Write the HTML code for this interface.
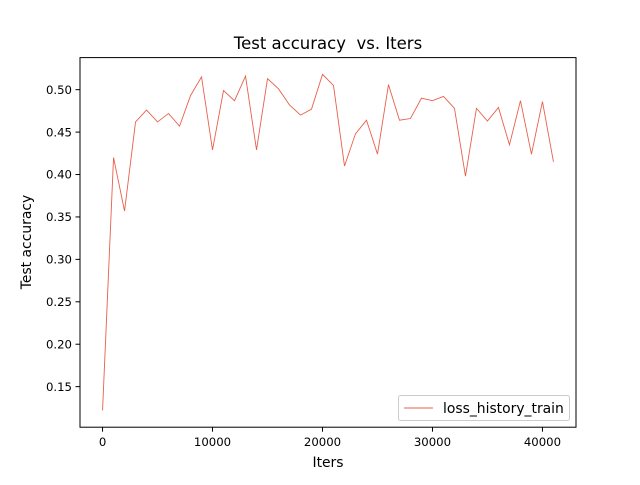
<!DOCTYPE html>
<html><head><meta charset="utf-8"><style>
body{margin:0;background:#fff;}
svg text{font-family:"DejaVu Sans","Liberation Sans",sans-serif;fill:#000;}
</style></head><body>
<svg id="chart" width="640" height="480" viewBox="0 0 640 480">
<rect width="640" height="480" fill="#fff"/>
<text x="328" y="49" font-size="16.5" text-anchor="middle" style="white-space:pre">Test accuracy  vs. Iters</text>
<g id="ticks"></g>
<polyline id="line" fill="none" stroke="#e8604c" stroke-width="0.9"/>
<rect x="80" y="57.6" width="496" height="369.6" fill="none" stroke="#000" stroke-width="1"/>
<text x="328" y="467" font-size="13.9" text-anchor="middle">Iters</text>
<text transform="translate(31,242) rotate(-90)" font-size="13.9" text-anchor="middle">Test accuracy</text>
<g>
<rect x="398.5" y="395.5" width="171" height="25" rx="2" fill="#fff" stroke="#ccc" stroke-width="1"/>
<line x1="404" y1="408" x2="433" y2="408" stroke="#e8604c" stroke-width="0.9"/>
<text x="443" y="413" font-size="13.9">loss_history_train</text>
</g>
</svg>
<script>
const iters = [0,1000,2000,3000,4000,5000,6000,7000,8000,9000,10000,11000,12000,13000,14000,15000,16000,17000,18000,19000,20000,21000,22000,23000,24000,25000,26000,27000,28000,29000,30000,31000,32000,33000,34000,35000,36000,37000,38000,39000,40000,41000];
const accuracy = [0.122,0.420,0.357,0.462,0.476,0.462,0.472,0.457,0.493,0.515,0.429,0.499,0.487,0.516,0.429,0.513,0.501,0.482,0.470,0.477,0.518,0.505,0.410,0.448,0.464,0.424,0.506,0.464,0.466,0.490,0.487,0.492,0.478,0.398,0.478,0.463,0.479,0.435,0.487,0.424,0.486,0.415];
const xTicks = [0,10000,20000,30000,40000];
const yTicks = [0.15,0.20,0.25,0.30,0.35,0.40,0.45,0.50];

const L=80,R=576,T=57.6,B=427.2;
const xmin=Math.min(...iters),xmax=Math.max(...iters),xm=(xmax-xmin)*0.05;
const ymin=Math.min(...accuracy),ymax=Math.max(...accuracy),ym=(ymax-ymin)*0.05;
const sx=v=>L+(v-(xmin-xm))/((xmax+xm)-(xmin-xm))*(R-L);
const sy=v=>B-(v-(ymin-ym))/((ymax+ym)-(ymin-ym))*(B-T);
const NS='http://www.w3.org/2000/svg';
const line=document.getElementById('line');
line.setAttribute('points',iters.map((x,i)=>sx(x).toFixed(2)+','+sy(accuracy[i]).toFixed(2)).join(' '));
const g=document.getElementById('ticks');
xTicks.forEach(v=>{
  const x=sx(v);
  const l=document.createElementNS(NS,'line');
  l.setAttribute('x1',x);l.setAttribute('x2',x);l.setAttribute('y1',B);l.setAttribute('y2',B+4.5);l.setAttribute('stroke','#000');
  
  
  g.appendChild(l);
  const t=document.createElementNS(NS,'text');
  t.setAttribute('x',x);t.setAttribute('y',B+19);t.setAttribute('font-size','11.7');t.setAttribute('text-anchor','middle');
  t.textContent=String(v);
  
  
  g.appendChild(t);
});
yTicks.forEach(v=>{
  const y=sy(v);
  const l=document.createElementNS(NS,'line');
  l.setAttribute('x1',L-4.5);l.setAttribute('x2',L);l.setAttribute('y1',y);l.setAttribute('y2',y);l.setAttribute('stroke','#000');
  
  
  g.appendChild(l);
  const t=document.createElementNS(NS,'text');
  t.setAttribute('x',L-8);t.setAttribute('y',y+4.2);t.setAttribute('font-size','11.7');t.setAttribute('text-anchor','end');
  t.textContent=v.toFixed(2);
  
  
  g.appendChild(t);
});
</script>
</body></html>
